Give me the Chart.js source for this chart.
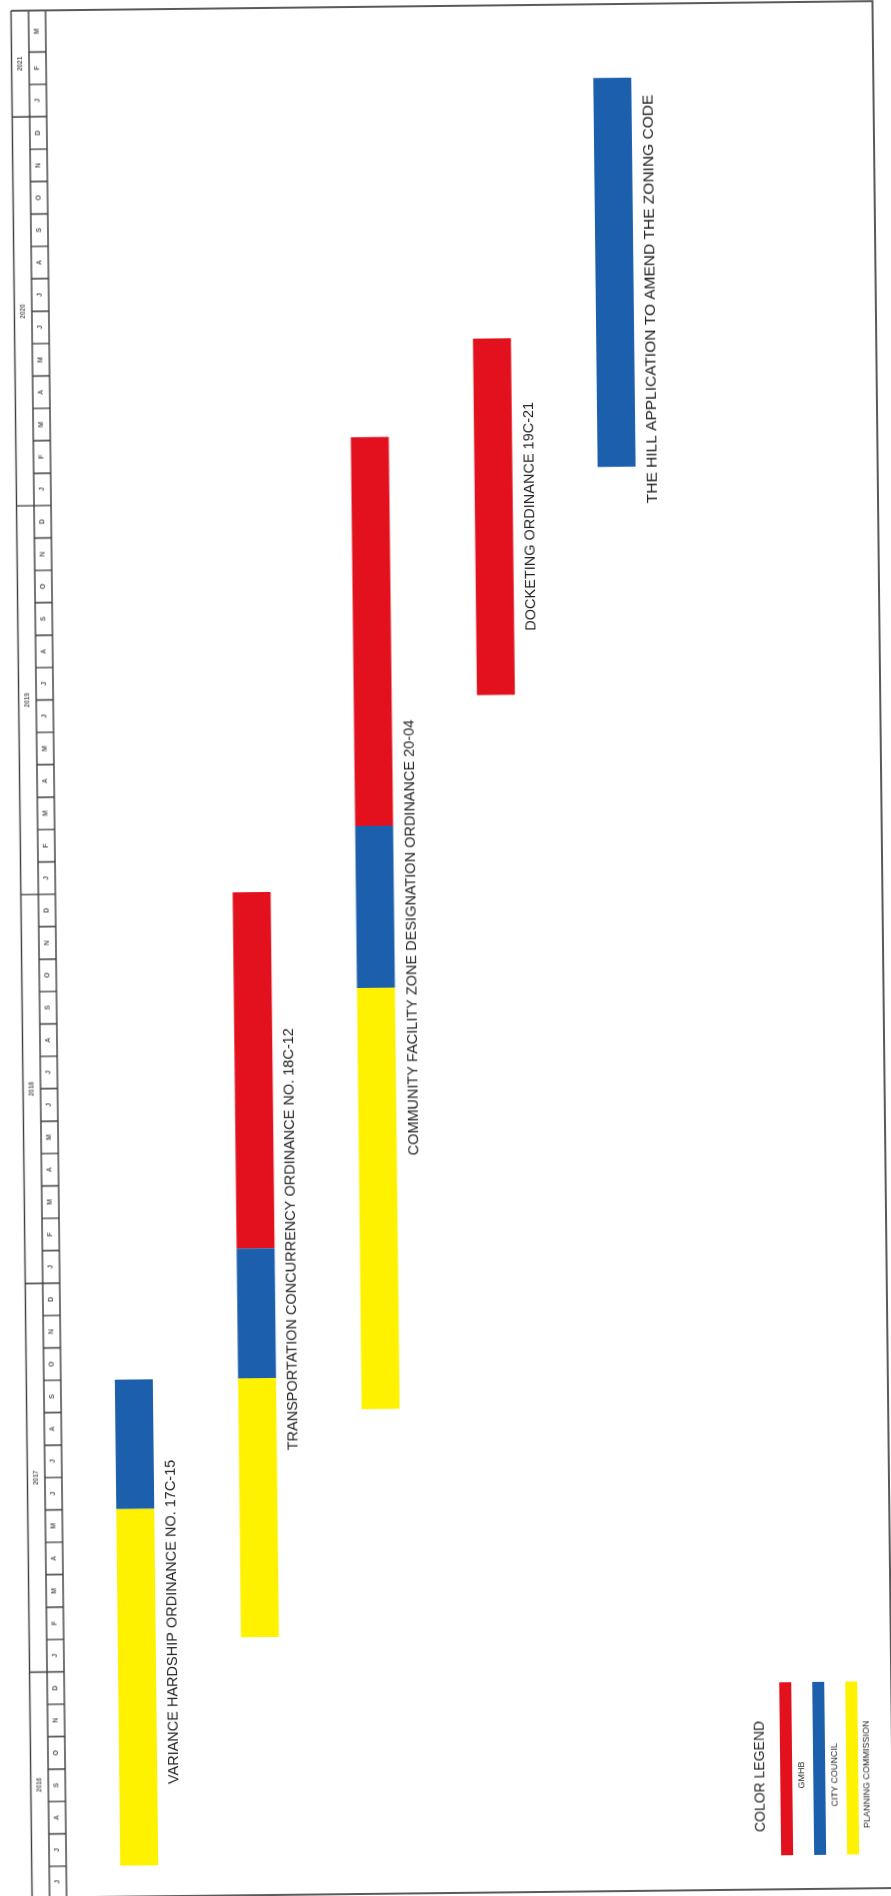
<!DOCTYPE html>
<html>
<head>
<meta charset="utf-8">
<script src="https://cdn.jsdelivr.net/npm/chart.js@4.4.1/dist/chart.umd.min.js"></script>
<style>
  html, body { margin: 0; padding: 0; background: #fff; overflow: hidden; }
  #wrap { width: 891px; height: 1896px; transform: rotate(-0.64deg); transform-origin: 50% 50%; }
</style>
</head>
<body>
<div id="wrap"><canvas id="gantt" width="891" height="1896"></canvas></div>
<script>
// values are months counted from Jan 2016 (0 = Jan 2016, 12 = Jan 2017 ...)
const tasks = [
  'VARIANCE HARDSHIP ORDINANCE NO. 17C-15',
  'TRANSPORTATION CONCURRENCY ORDINANCE NO. 18C-12',
  'COMMUNITY FACILITY ZONE DESIGNATION ORDINANCE 20-04',
  'DOCKETING ORDINANCE 19C-21',
  'THE HILL APPLICATION TO AMEND THE ZONING CODE'
];
const planningCommission = [[6, 17], [13, 21], [20, 33], null, null];
const cityCouncil = [[17, 21], [21, 25], [33, 38], null, [49, 61]];
const gmhb = [null, [25, 36], [38, 50], [42, 53], null];

const monthLetters = ['J', 'F', 'M', 'A', 'M', 'J', 'J', 'A', 'S', 'O', 'N', 'D'];
const years = ['2016', '2017', '2018', '2019', '2020', '2021'];
const axisStart = 5.04;   // just into Jun 2016
const axisEnd = 63.28;    // top of the sheet, Mar 2021 cell runs to the edge
const lastMonth = 63;     // table stops after Mar 2021

const YELLOW = '#FFF200';
const BLUE = '#1B5FAD';
const RED = '#E3111D';
const INK = '#1f1f1f';
const FONT = '"Liberation Sans", Arial, sans-serif';
// small hand placement of the task captions along the bar (px, + = down)
const labelNudge = [0, -25, 15, 0, 27];
const labelSize = [14.5, 14.5, 14.5, 14.5, 15.5];

function vText(ctx, text, x, y, font, color) {
  ctx.save();
  ctx.translate(x, y);
  ctx.rotate(-Math.PI / 2);
  ctx.font = font;
  ctx.fillStyle = color;
  ctx.textAlign = 'center';
  ctx.textBaseline = 'middle';
  ctx.fillText(text, 0, 0);
  ctx.restore();
}

const ganttDecor = {
  id: 'ganttDecor',
  afterDraw(chart) {
    const ctx = chart.ctx;
    const y = chart.scales.y;
    const x = chart.scales.x;
    const area = chart.chartArea;
    const colL = 21.5, colM = 39, colR = 56, rightEdge = 883;

    // header columns (years / months) down the left side
    ctx.save();
    ctx.strokeStyle = '#3c3c3c';
    ctx.lineWidth = 1.4;
    ctx.beginPath();
    [colL, colM, colR].forEach(cx => { ctx.moveTo(cx, area.top); ctx.lineTo(cx, area.bottom); });
    for (let v = Math.ceil(axisStart); v < lastMonth; v++) {
      const py = y.getPixelForValue(v);
      ctx.moveTo(v % 12 === 0 ? colL : colM, py);
      ctx.lineTo(colR, py);
    }
    ctx.stroke();

    for (let v = Math.floor(axisStart); v < lastMonth; v++) {
      const lo = Math.max(v, axisStart);
      const hi = v + 1 >= lastMonth ? axisEnd : v + 1;
      const cy = (y.getPixelForValue(lo) + y.getPixelForValue(hi)) / 2;
      vText(ctx, monthLetters[v % 12], (colM + colR) / 2, cy, 'bold 7px ' + FONT, '#555');
    }
    years.forEach((yr, k) => {
      const lo = Math.max(12 * k, axisStart), hi = Math.min(12 * k + 12, axisEnd);
      if (hi <= lo) return;
      const cy = (y.getPixelForValue(lo) + y.getPixelForValue(hi)) / 2;
      vText(ctx, yr, (colL + colM) / 2, cy, 'bold 6.5px ' + FONT, '#666');
    });

    // outer frame
    ctx.strokeStyle = '#5a5a5a';
    ctx.lineWidth = 2;
    ctx.beginPath();
    ctx.moveTo(colL, area.top); ctx.lineTo(rightEdge, area.top); ctx.lineTo(rightEdge, area.bottom);
    ctx.moveTo(colL, area.bottom); ctx.lineTo(chart.width, area.bottom);
    ctx.stroke();
    ctx.restore();

    // task captions beside each bar
    tasks.forEach((name, i) => {
      const spans = [planningCommission[i], cityCouncil[i], gmhb[i]].filter(Boolean);
      const lo = Math.min(...spans.map(s => s[0]));
      const hi = Math.max(...spans.map(s => s[1]));
      const cy = (y.getPixelForValue(lo) + y.getPixelForValue(hi)) / 2 + labelNudge[i];
      vText(ctx, name, x.getPixelForValue(i) + 36, cy, labelSize[i] + 'px ' + FONT, INK);
    });

    // colour legend, bottom right
    const legTop = 1686, legBot = 1859;
    vText(ctx, 'COLOR LEGEND', 751, 1780, '14px ' + FONT, INK);
    const items = chart.data.datasets.slice().reverse();
    const lineX = [771, 804, 837];
    const textX = [793, 826, 858];
    items.forEach((ds, k) => {
      ctx.fillStyle = ds.backgroundColor;
      ctx.fillRect(lineX[k], legTop, 12, legBot - legTop);
      vText(ctx, ds.label, textX[k], 1779, '9px ' + FONT, INK);
    });
  }
};

new Chart(document.getElementById('gantt'), {
  type: 'bar',
  data: {
    labels: tasks,
    datasets: [
      { label: 'PLANNING COMMISSION', data: planningCommission, backgroundColor: YELLOW, grouped: false },
      { label: 'CITY COUNCIL', data: cityCouncil, backgroundColor: BLUE, grouped: false },
      { label: 'GMHB', data: gmhb, backgroundColor: RED, grouped: false }
    ]
  },
  options: {
    responsive: false,
    animation: false,
    layout: { padding: { left: 67.4, right: 207.4, top: 6, bottom: 3 } },
    plugins: { legend: { display: false }, tooltip: { enabled: false } },
    datasets: { bar: { categoryPercentage: 1, barPercentage: 0.308, borderWidth: 0 } },
    scales: {
      x: { display: false, offset: true },
      y: { display: false, min: axisStart, max: axisEnd }
    }
  },
  plugins: [ganttDecor]
});
</script>
</body>
</html>
